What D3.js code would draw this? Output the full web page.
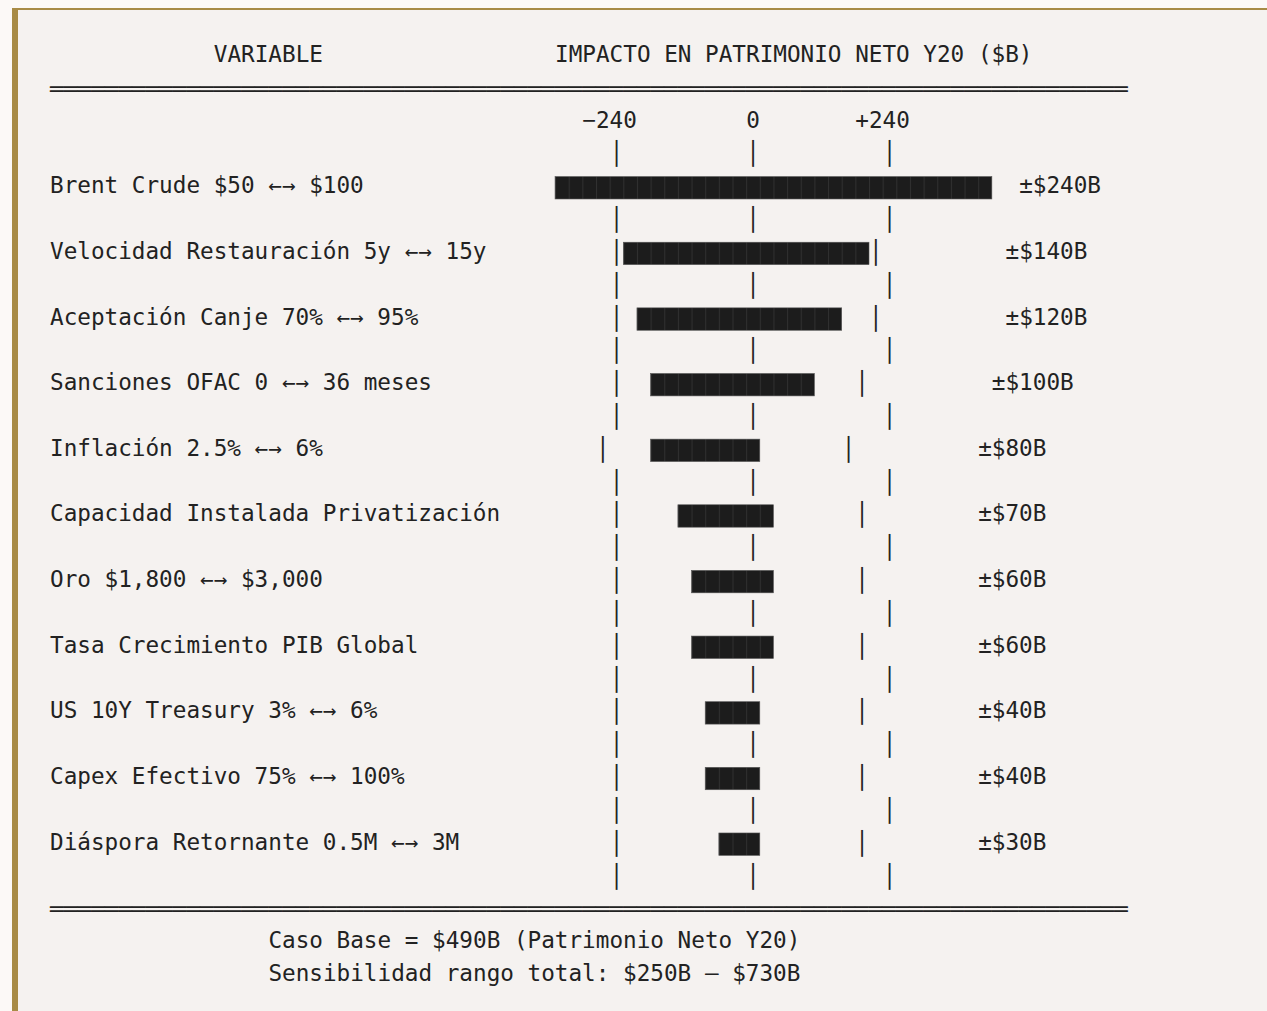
<!DOCTYPE html>
<html>
<head>
<meta charset="utf-8">
<script src="https://cdn.jsdelivr.net/npm/d3@7"></script>
<style>
  html, body { margin: 0; padding: 0; background: #fcf9f7; }
  svg { display: block; }
  text { font-family: "DejaVu Sans Mono", monospace; font-size: 22.67px; fill: #222; white-space: pre; }
</style>
</head>
<body>
<svg id="chart" width="1267" height="1011"></svg>
<script>
//tornado chart drawn like a text block, values in $B

const variables = [
  'Brent Crude $50 ←→ $100',
  'Velocidad Restauración 5y ←→ 15y',
  'Aceptación Canje 70% ←→ 95%',
  'Sanciones OFAC 0 ←→ 36 meses',
  'Inflación 2.5% ←→ 6%',
  'Capacidad Instalada Privatización',
  'Oro $1,800 ←→ $3,000',
  'Tasa Crecimiento PIB Global',
  'US 10Y Treasury 3% ←→ 6%',
  'Capex Efectivo 75% ←→ 100%',
  'Diáspora Retornante 0.5M ←→ 3M'
];
const lowImpact  = [-348, -228, -204, -180, -180, -132, -108, -108, -84, -84, -60];
const highImpact = [ 420,  204,  156,  108,   12,   36,   36,   36,  12,  12,  12];
const swing      = [ 240,  140,  120,  100,   80,   70,   60,   60,  40,  40,  30];
// the side markers drawn on each bar row (null = hidden under the bar)
const markLow    = [null, -240, -240, -240, -264, -240, -240, -240, -240, -240, -240];
const markHigh   = [null,  216,  216,  192,  168,  192,  192,  192,  192,  192,  192];
const tickValues = [-240, 0, 240];
const tickLabels = ['−240', '0', '+240'];

const headerVar = 'VARIABLE';
const headerImpact = 'IMPACTO EN PATRIMONIO NETO Y20 ($B)';
const footer = [
  'Caso Base = $490B (Patrimonio Neto Y20)',
  'Sensibilidad rango total: $250B – $730B'
];

// text grid
const cw = 13.65;           // char width
const lh = 32.82;           // line height
const x0 = 50;
const y0 = 62;
const colX = c => x0 + c * cw;
const lineY = l => y0 + l * lh;
const ruleLen = 79;
// where the value label starts on each row (text column)
const valueCol = [71, 70, 70, 69, 68, 68, 68, 68, 68, 68, 68];

const svg = d3.select('#chart');
const W = +svg.attr('width');
const H = +svg.attr('height');

// frame
svg.append('rect').attr('x', 12).attr('y', 8).attr('width', W - 12).attr('height', H - 8)
  .attr('fill', '#f5f2f0');
svg.append('rect').attr('x', 12).attr('y', 8).attr('width', W - 12).attr('height', 2)
  .attr('fill', '#a88b46');
svg.append('rect').attr('x', 12).attr('y', 8).attr('width', 6).attr('height', H - 8)
  .attr('fill', '#a88b46');

// value scale: -240 .. +240 spans ten text columns each side of zero
const xScale = d3.scaleLinear()
  .domain([-240, 240])
  .range([colX(41.5), colX(61.5)]);

// pattern so the bars look like block characters
const defs = svg.append('defs');
const pat = defs.append('pattern')
  .attr('id', 'blocks')
  .attr('patternUnits', 'userSpaceOnUse')
  .attr('x', x0).attr('y', 0)
  .attr('width', cw).attr('height', 40);
pat.append('rect').attr('width', cw).attr('height', 40).attr('fill', '#1c1c1c');
pat.append('rect').attr('width', 1).attr('height', 40).attr('fill', '#303030');

const g = svg.append('g');

// header
g.append('text').attr('x', colX(12)).attr('y', lineY(0)).text(headerVar);
g.append('text').attr('x', colX(37)).attr('y', lineY(0)).text(headerImpact);

// rules
[1, 26].forEach(l => {
  g.append('text').attr('x', colX(0)).attr('y', lineY(l) + 2).text('═'.repeat(ruleLen));
});

// tick labels, snapped to the grid
g.selectAll('text.tick')
  .data(tickValues)
  .join('text')
  .attr('class', 'tick')
  .attr('x', (d, i) => {
    const c = (xScale(d) - x0) / cw - tickLabels[i].length / 2;
    return colX(Math.floor(c + 0.001));
  })
  .attr('y', lineY(2))
  .text((d, i) => tickLabels[i]);

// grid pipes on the lines between rows
const pipeLines = d3.range(0, variables.length + 1).map(i => 3 + i * 2);
pipeLines.forEach(l => {
  g.selectAll(null)
    .data(tickValues)
    .join('text')
    .attr('x', d => xScale(d))
    .attr('y', lineY(l) + 1)
    .attr('text-anchor', 'middle')
    .text('│');
});

// rows
const rows = variables.map((v, i) => ({
  name: v, lo: lowImpact[i], hi: highImpact[i], swing: swing[i],
  mLo: markLow[i], mHi: markHigh[i], line: 4 + i * 2, vcol: valueCol[i]
}));

const row = g.selectAll('g.row')
  .data(rows)
  .join('g')
  .attr('class', 'row');

row.append('text')
  .attr('x', colX(0))
  .attr('y', d => lineY(d.line))
  .text(d => d.name);

row.filter(d => d.mLo !== null).each(function(d) {
  const r = d3.select(this);
  [d.mLo, d.mHi].forEach(m => {
    r.append('text')
      .attr('x', xScale(m))
      .attr('y', lineY(d.line) + 1)
      .attr('text-anchor', 'middle')
      .text('│');
  });
});

row.append('rect')
  .attr('x', d => xScale(d.lo))
  .attr('y', d => lineY(d.line) - 16.7)
  .attr('width', d => xScale(d.hi) - xScale(d.lo))
  .attr('height', 22.4)
  .attr('fill', 'url(#blocks)')
  .attr('stroke', '#555')
  .attr('stroke-width', 0.6);

row.append('text')
  .attr('x', d => colX(d.vcol))
  .attr('y', d => lineY(d.line))
  .text(d => `±$${d.swing}B`);

// footer
footer.forEach((t, i) => {
  g.append('text').attr('x', colX(16)).attr('y', lineY(27 + i)).text(t);
});
</script>
</body>
</html>
